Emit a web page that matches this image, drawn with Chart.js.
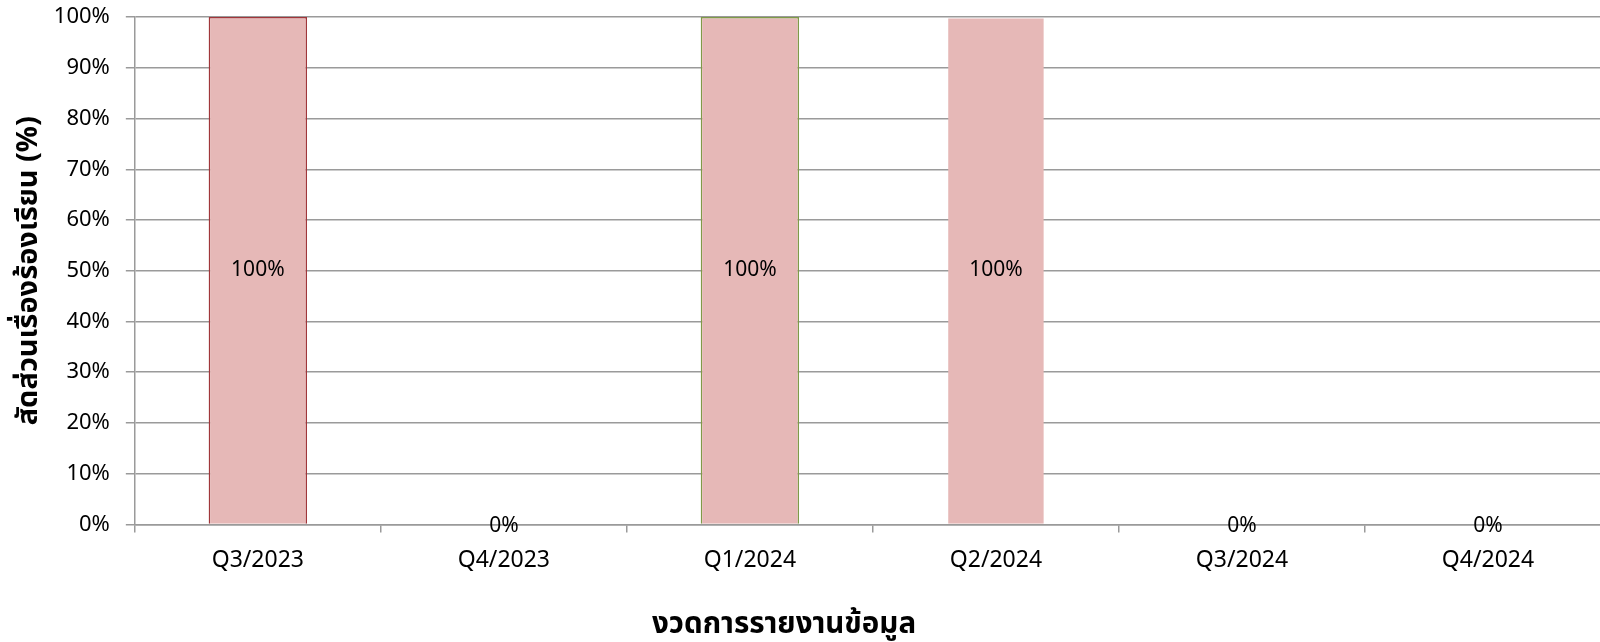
<!DOCTYPE html>
<html>
<head>
<meta charset="utf-8">
<script src="https://cdn.jsdelivr.net/npm/chart.js@4/dist/chart.umd.min.js"></script>
<style>
  html, body { margin: 0; padding: 0; background: #fff; overflow: hidden; width: 1600px; height: 642px; }
  canvas { display: block; }
</style>
</head>
<body>
<!-- plot runs a little past the right edge of the window, as in the original -->
<canvas id="c" width="1611" height="642"></canvas>
<script>
  // data
  var periods = ['Q3/2023', 'Q4/2023', 'Q1/2024', 'Q2/2024', 'Q3/2024', 'Q4/2024'];
  var shares = [100, 0, 100, 100, 0, 0];
  var yTicks = [0, 10, 20, 30, 40, 50, 60, 70, 80, 90, 100];
  var yTitle = 'สัดส่วนเรื่องร้องเรียน (%)';
  var xTitle = 'งวดการรายงานข้อมูล';

  var barFill = '#E6B8B7';
  var barEdges = ['#A0363A', '#A0363A', '#7F9A48', 'rgba(0,0,0,0)', '#A0363A', '#A0363A'];
  var FONT = "'Noto Sans', 'Noto Sans Thai', 'DejaVu Sans', sans-serif";
  var VIEW_W = 1600;

  // value labels: centred in bar (or on the baseline when zero)
  // plus the x-axis title, which in the original sits left of the plot centre
  var valueLabels = {
    id: 'valueLabels',
    afterDatasetsDraw: function (chart) {
      var ctx = chart.ctx;
      var meta = chart.getDatasetMeta(0);
      ctx.save();
      ctx.font = '21px ' + FONT;
      ctx.fillStyle = '#000';
      ctx.textAlign = 'center';
      ctx.textBaseline = 'middle';
      meta.data.forEach(function (bar, i) {
        var p = bar.getProps(['x', 'y', 'base'], true);
        var y = (p.y + p.base) / 2;
        if (shares[i] === 0) y = p.base + 2;
        ctx.fillText(shares[i] + '%', p.x, y);
      });
      ctx.font = 'bold 29.5px ' + FONT;
      ctx.fillText(xTitle, VIEW_W / 2 - 16, chart.height - 17);
      ctx.restore();
    }
  };

  new Chart(document.getElementById('c'), {
    type: 'bar',
    data: {
      labels: periods,
      datasets: [{
        data: shares,
        backgroundColor: barFill,
        borderColor: barEdges,
        borderWidth: 1.5,
        barPercentage: 0.4,
        categoryPercentage: 1
      }]
    },
    options: {
      responsive: false,
      animation: false,
      devicePixelRatio: 1,
      layout: { padding: { top: 1, right: 0, left: 11, bottom: 54 } },
      plugins: { legend: { display: false }, tooltip: { enabled: false } },
      scales: {
        y: {
          min: 0,
          max: 100,
          afterBuildTicks: function (axis) {
            axis.ticks = yTicks.map(function (v) { return { value: v }; });
          },
          ticks: {
            callback: function (v) { return v + '%'; },
            // tiny lineHeight so the labels don't push the plot top down
            font: { family: FONT, size: 22, lineHeight: 0.1 },
            color: '#000',
            padding: 16
          },
          grid: { color: '#9a9a9a', lineWidth: 1.5, tickLength: 9 },
          border: { color: '#9a9a9a', width: 1.5 },
          title: {
            display: true,
            text: yTitle,
            font: { family: FONT, size: 29, weight: 'bold' },
            color: '#000',
            padding: { top: 0, bottom: -8 }
          }
        },
        x: {
          ticks: {
            font: { family: FONT, size: 23 },
            color: '#000',
            padding: 14
          },
          grid: { drawOnChartArea: false, color: '#9a9a9a', lineWidth: 1.5, tickLength: 8 },
          border: { color: '#9a9a9a', width: 1.5 }
        }
      }
    },
    plugins: [valueLabels]
  });
</script>
</body>
</html>
